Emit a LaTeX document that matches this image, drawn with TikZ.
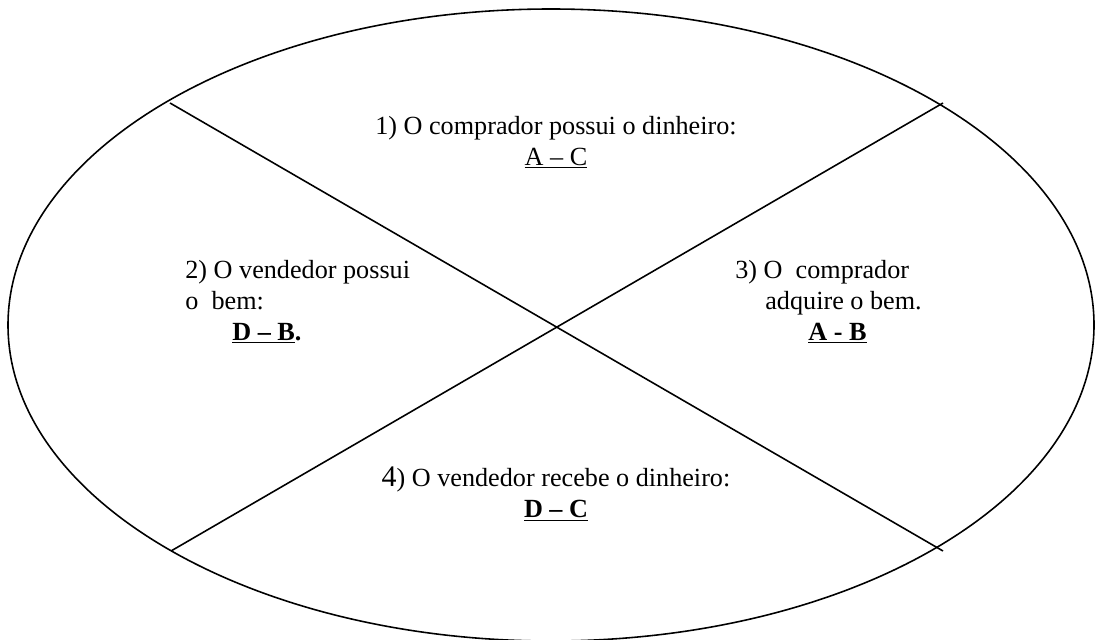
\documentclass[tikz,border=0pt]{standalone}
\usepackage{fontspec}
\setmainfont{Liberation Serif}
\usepackage{tikz}
\usetikzlibrary{positioning}
\tikzset{
  quadrant/.style={inner sep=0pt,font=\fontsize{14.9}{17.5}\selectfont},
  cut/.style={draw=black,line width=0.9pt},
  rim/.style={draw=black,line width=0.9pt}
}
\begin{document}
\begin{tikzpicture}
  \useasboundingbox (0,0) rectangle (21.92,12.78);
  \draw[rim] (11.02,6.28) ellipse [x radius=10.86cm,y radius=6.32cm];
  \coordinate (tl) at (3.40,10.72);
  \coordinate (tr) at (18.86,10.72);
  \coordinate (bl) at (3.42,1.76);
  \coordinate (br) at (18.86,1.76);
  \draw[cut] (tl)--(br);
  \draw[cut] (tr)--(bl);
  \node[quadrant,align=center] (q1) at (11.12,9.93)
    {1) O comprador possui o dinheiro:\\ \underline{A -- C}};
  \node[quadrant,align=left,anchor=west] (q2) at (3.70,6.74)
    {2) O vendedor possui\\ o\ \ bem:\\ \hspace*{0.94cm}\textbf{\underline{D -- B}.}};
  \node[quadrant,align=left,anchor=west] (q3) at (14.70,6.74)
    {3) O\ \ comprador\\ \hspace*{0.6cm}adquire o bem.\\ \hspace*{1.46cm}\textbf{\underline{A - B}}};
  \node[quadrant,align=center] (q4) at (11.12,2.90)
    {{\fontsize{17}{17}\selectfont 4}) O vendedor recebe o dinheiro:\\ \textbf{\underline{D -- C}}};
\end{tikzpicture}
\end{document}
